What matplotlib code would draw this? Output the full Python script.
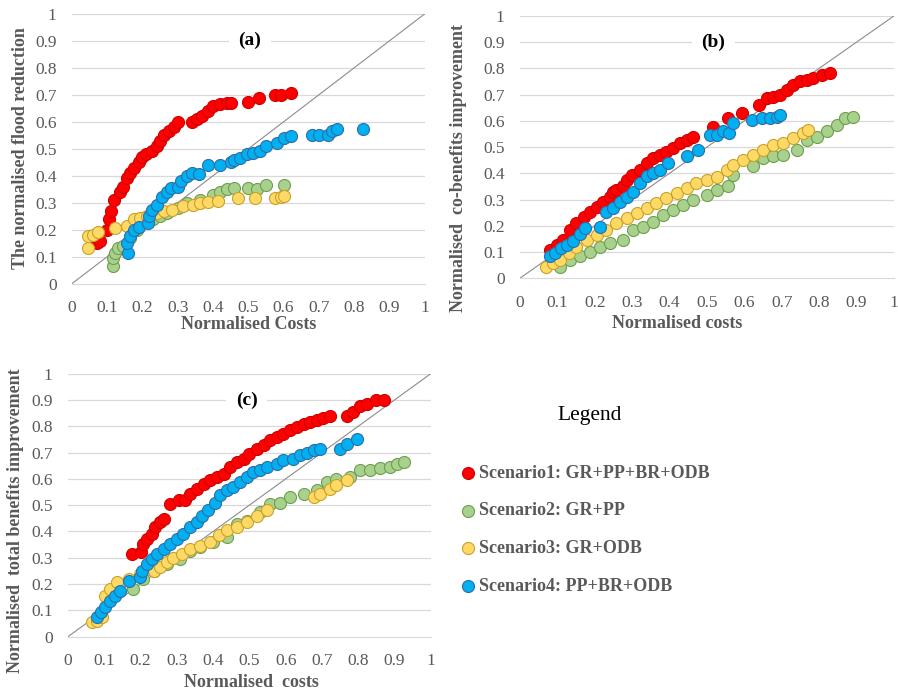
import matplotlib.pyplot as plt
import numpy as np

# ---- data ----
# panel (a): flood reduction vs costs
a_s1_x = [0.07, 0.08, 0.10, 0.104, 0.11, 0.12, 0.137, 0.146, 0.156, 0.165, 0.175, 0.19, 0.198, 0.21, 0.226,
          0.24, 0.25, 0.26, 0.274, 0.29, 0.30, 0.34, 0.354, 0.37, 0.387, 0.40, 0.42, 0.44, 0.45, 0.50, 0.53,
          0.575, 0.594, 0.62]
a_s1_y = [0.15, 0.16, 0.20, 0.24, 0.27, 0.31, 0.34, 0.36, 0.39, 0.41, 0.43, 0.45, 0.47, 0.48, 0.49,
          0.51, 0.53, 0.55, 0.565, 0.58, 0.60, 0.60, 0.61, 0.62, 0.64, 0.66, 0.665, 0.67, 0.67, 0.675, 0.69,
          0.70, 0.70, 0.707]
a_s2_x = [0.118, 0.118, 0.123, 0.132, 0.146, 0.165, 0.184, 0.20, 0.23, 0.25, 0.27, 0.30, 0.325, 0.363, 0.40,
          0.42, 0.44, 0.46, 0.50, 0.524, 0.55, 0.60]
a_s2_y = [0.065, 0.096, 0.115, 0.133, 0.14, 0.17, 0.20, 0.225, 0.24, 0.25, 0.263, 0.28, 0.30, 0.31, 0.33,
          0.34, 0.35, 0.355, 0.355, 0.35, 0.367, 0.367]
a_s3_x = [0.047, 0.047, 0.061, 0.075, 0.123, 0.156, 0.175, 0.193, 0.212, 0.24, 0.26, 0.283, 0.316, 0.344,
          0.363, 0.387, 0.415, 0.472, 0.52, 0.575, 0.594, 0.60]
a_s3_y = [0.133, 0.176, 0.182, 0.19, 0.207, 0.213, 0.24, 0.244, 0.25, 0.263, 0.27, 0.275, 0.287, 0.293,
          0.30, 0.302, 0.306, 0.318, 0.318, 0.318, 0.32, 0.324]
a_s4_x = [0.16, 0.155, 0.165, 0.175, 0.19, 0.217, 0.22, 0.226, 0.24, 0.255, 0.27, 0.28, 0.30, 0.31, 0.325,
          0.34, 0.36, 0.387, 0.42, 0.45, 0.46, 0.476, 0.495, 0.514, 0.533, 0.55, 0.58, 0.60, 0.62, 0.68,
          0.70, 0.726, 0.736, 0.75, 0.825]
a_s4_y = [0.115, 0.15, 0.175, 0.20, 0.21, 0.225, 0.25, 0.275, 0.29, 0.32, 0.34, 0.355, 0.36, 0.38, 0.40,
          0.41, 0.405, 0.44, 0.44, 0.45, 0.46, 0.466, 0.48, 0.485, 0.49, 0.51, 0.52, 0.54, 0.546, 0.55,
          0.55, 0.55, 0.565, 0.573, 0.573]

# panel (b): co-benefits vs costs
b_s1_x = [0.08, 0.098, 0.116, 0.134, 0.15, 0.17, 0.187, 0.205, 0.223, 0.24, 0.25, 0.258, 0.276, 0.285, 0.30,
          0.32, 0.34, 0.357, 0.374, 0.39, 0.41, 0.428, 0.446, 0.463, 0.517, 0.557, 0.593, 0.64, 0.66, 0.677,
          0.695, 0.713, 0.73, 0.75, 0.767, 0.784, 0.807, 0.83]
b_s1_y = [0.108, 0.127, 0.146, 0.184, 0.21, 0.235, 0.254, 0.273, 0.292, 0.31, 0.33, 0.337, 0.35, 0.375, 0.394,
          0.413, 0.438, 0.457, 0.47, 0.483, 0.495, 0.515, 0.527, 0.54, 0.578, 0.61, 0.63, 0.66, 0.686, 0.69,
          0.70, 0.718, 0.737, 0.75, 0.756, 0.762, 0.775, 0.784]
b_s2_x = [0.107, 0.134, 0.16, 0.187, 0.214, 0.24, 0.276, 0.303, 0.33, 0.357, 0.383, 0.41, 0.437, 0.463, 0.50,
          0.526, 0.557, 0.57, 0.624, 0.65, 0.677, 0.704, 0.74, 0.767, 0.793, 0.82, 0.847, 0.87, 0.89]
b_s2_y = [0.044, 0.07, 0.083, 0.10, 0.12, 0.133, 0.146, 0.184, 0.197, 0.216, 0.24, 0.26, 0.28, 0.30, 0.318,
          0.337, 0.35, 0.394, 0.426, 0.457, 0.464, 0.47, 0.489, 0.527, 0.54, 0.56, 0.585, 0.61, 0.616]
b_s3_x = [0.071, 0.089, 0.107, 0.13, 0.15, 0.178, 0.205, 0.23, 0.258, 0.285, 0.312, 0.34, 0.365, 0.39, 0.42,
          0.446, 0.472, 0.50, 0.526, 0.553, 0.57, 0.597, 0.624, 0.65, 0.677, 0.704, 0.73, 0.757, 0.77]
b_s3_y = [0.044, 0.057, 0.07, 0.095, 0.12, 0.146, 0.165, 0.184, 0.21, 0.229, 0.248, 0.267, 0.286, 0.305, 0.324,
          0.343, 0.362, 0.375, 0.387, 0.413, 0.432, 0.451, 0.47, 0.489, 0.508, 0.514, 0.534, 0.553, 0.565]
b_s4_x = [0.08, 0.094, 0.11, 0.125, 0.143, 0.16, 0.174, 0.214, 0.23, 0.25, 0.267, 0.285, 0.303, 0.32, 0.34,
          0.357, 0.374, 0.397, 0.446, 0.477, 0.508, 0.526, 0.544, 0.56, 0.57, 0.62, 0.646, 0.668, 0.686, 0.695]
b_s4_y = [0.083, 0.095, 0.114, 0.127, 0.14, 0.17, 0.19, 0.197, 0.254, 0.267, 0.292, 0.31, 0.33, 0.362, 0.388,
          0.40, 0.413, 0.438, 0.464, 0.489, 0.546, 0.546, 0.56, 0.553, 0.59, 0.604, 0.61, 0.61, 0.616, 0.623]

# panel (c): total benefits vs costs
c_s1_x = [0.176, 0.20, 0.208, 0.218, 0.231, 0.24, 0.254, 0.264, 0.282, 0.305, 0.323, 0.337, 0.355, 0.374,
          0.392, 0.41, 0.43, 0.447, 0.466, 0.484, 0.50, 0.52, 0.54, 0.557, 0.576, 0.594, 0.612, 0.63, 0.65,
          0.667, 0.686, 0.704, 0.723, 0.77, 0.787, 0.805, 0.824, 0.85, 0.87]
c_s1_y = [0.315, 0.32, 0.353, 0.372, 0.39, 0.416, 0.435, 0.448, 0.505, 0.518, 0.518, 0.543, 0.562, 0.58,
          0.594, 0.607, 0.62, 0.645, 0.664, 0.676, 0.695, 0.714, 0.727, 0.746, 0.759, 0.77, 0.784, 0.797, 0.81,
          0.816, 0.825, 0.832, 0.84, 0.84, 0.854, 0.876, 0.886, 0.90, 0.90]
c_s2_x = [0.18, 0.208, 0.236, 0.273, 0.31, 0.337, 0.365, 0.40, 0.438, 0.466, 0.493, 0.53, 0.557, 0.585, 0.612,
          0.65, 0.686, 0.713, 0.74, 0.777, 0.805, 0.833, 0.86, 0.888, 0.906, 0.925]
c_s2_y = [0.18, 0.22, 0.25, 0.277, 0.296, 0.327, 0.34, 0.36, 0.378, 0.43, 0.44, 0.473, 0.505, 0.51, 0.53,
          0.543, 0.556, 0.587, 0.60, 0.607, 0.632, 0.632, 0.64, 0.645, 0.657, 0.664]
c_s3_x = [0.066, 0.08, 0.094, 0.103, 0.117, 0.135, 0.167, 0.199, 0.236, 0.254, 0.273, 0.29, 0.314, 0.337,
          0.365, 0.392, 0.415, 0.438, 0.466, 0.493, 0.52, 0.548, 0.677, 0.695, 0.723, 0.74, 0.769]
c_s3_y = [0.055, 0.061, 0.074, 0.156, 0.18, 0.207, 0.22, 0.24, 0.25, 0.264, 0.283, 0.30, 0.315, 0.334,
          0.346, 0.36, 0.385, 0.404, 0.416, 0.435, 0.46, 0.48, 0.53, 0.543, 0.562, 0.575, 0.594]
c_s4_x = [0.08, 0.09, 0.103, 0.117, 0.13, 0.144, 0.167, 0.199, 0.204, 0.218, 0.231, 0.245, 0.264, 0.282,
          0.30, 0.318, 0.337, 0.355, 0.369, 0.387, 0.406, 0.42, 0.438, 0.456, 0.475, 0.493, 0.51, 0.53, 0.548,
          0.576, 0.594, 0.62, 0.64, 0.658, 0.677, 0.695, 0.75, 0.769, 0.796]
c_s4_y = [0.074, 0.093, 0.112, 0.137, 0.156, 0.175, 0.213, 0.226, 0.25, 0.277, 0.296, 0.315, 0.334, 0.353,
          0.372, 0.39, 0.416, 0.435, 0.46, 0.48, 0.51, 0.537, 0.556, 0.568, 0.588, 0.607, 0.626, 0.632, 0.645,
          0.657, 0.67, 0.676, 0.69, 0.70, 0.708, 0.714, 0.714, 0.733, 0.753]

labels = ['Scenario1: GR+PP+BR+ODB', 'Scenario2: GR+PP', 'Scenario3: GR+ODB', 'Scenario4: PP+BR+ODB']
fills = ['#FF0000', '#A9D18E', '#FFD966', '#00B0F0']
edges = ['#D00000', '#6E9E4E', '#C9A227', '#2E6DA8']

ticks = np.arange(0, 1.01, 0.1)
tick_labels = ['0', '0.1', '0.2', '0.3', '0.4', '0.5', '0.6', '0.7', '0.8', '0.9', '1']

serif = 'Liberation Serif'
grey = '#595959'

fig = plt.figure(figsize=(8.98, 6.92), dpi=100)

# rect, tag, tag x, xlabel, ylabel, xlabel coords, ylabel coords, series
panels = [
    ([0.080, 0.590, 0.393, 0.390], '(a)', 0.505, 'Normalised Costs', 'The normalised flood reduction',
     (0.50, -0.118), (-0.122, 0.504),
     [(a_s1_x, a_s1_y), (a_s2_x, a_s2_y), (a_s3_x, a_s3_y), (a_s4_x, a_s4_y)]),
    ([0.579, 0.598, 0.4165, 0.379], '(b)', 0.517, 'Normalised costs', 'Normalised  co-benefits improvement',
     (0.42, -0.14), (-0.142, 0.42),
     [(b_s1_x, b_s1_y), (b_s2_x, b_s2_y), (b_s3_x, b_s3_y), (b_s4_x, b_s4_y)]),
    ([0.0757, 0.080, 0.404, 0.380], '(c)', 0.493, 'Normalised  costs', 'Normalised  total benefits improvement',
     (0.507, -0.142), (-0.121, 0.44),
     [(c_s1_x, c_s1_y), (c_s2_x, c_s2_y), (c_s3_x, c_s3_y), (c_s4_x, c_s4_y)]),
]

handles = []
for rect, tag, tx, xl, yl, xlc, ylc, series in panels:
    ax = fig.add_axes(rect)
    ax.set_xlim(0, 1)
    ax.set_ylim(0, 1)
    for y in ticks[1:]:
        ax.axhline(y, color='#D9D9D9', lw=0.9, zorder=0)
    ax.plot([0, 1], [0, 1], color='#8C8C8C', lw=0.8, zorder=1)
    hs = []
    for (xs, ys), fc, ec, lab in zip(series, fills, edges, labels):
        h = ax.scatter(xs, ys, s=75, c=fc, edgecolors=ec, linewidths=0.8, zorder=3, label=lab)
        hs.append(h)
    if not handles:
        handles = hs
    for sp in ['top', 'right', 'left']:
        ax.spines[sp].set_visible(False)
    ax.spines['bottom'].set_color('#D9D9D9')
    ax.set_xticks(ticks)
    ax.set_xticklabels(tick_labels)
    ax.set_yticks(ticks)
    ax.set_yticklabels(tick_labels)
    ax.tick_params(length=0, labelsize=12.5, labelcolor=grey)
    ax.tick_params(axis='x', pad=12)
    ax.tick_params(axis='y', pad=11)
    for t in ax.get_xticklabels() + ax.get_yticklabels():
        t.set_fontfamily(serif)
    ax.set_xlabel(xl, fontfamily=serif, fontweight='bold', fontsize=13, color=grey)
    ax.set_ylabel(yl, fontfamily=serif, fontweight='bold', fontsize=13, color=grey)
    ax.xaxis.set_label_coords(*xlc)
    ax.yaxis.set_label_coords(*ylc)
    ax.text(tx, 0.9, tag, ha='center', va='center', fontfamily=serif, fontweight='bold', fontsize=14,
            color='black', zorder=4,
            bbox=dict(facecolor='white', edgecolor='none', pad=7))

fig.text(0.657, 0.399, 'Legend', ha='center', va='center', fontfamily=serif, fontsize=15.5, color='black')
leg = fig.legend(handles=handles, labels=labels, loc='upper left', bbox_to_anchor=(0.491, 0.352),
                 frameon=False, labelspacing=1.15, handletextpad=0.0, handlelength=1.2,
                 prop=dict(family=serif, weight='bold', size=13))
for t in leg.get_texts():
    t.set_color(grey)

plt.savefig('out.png', dpi=100)
